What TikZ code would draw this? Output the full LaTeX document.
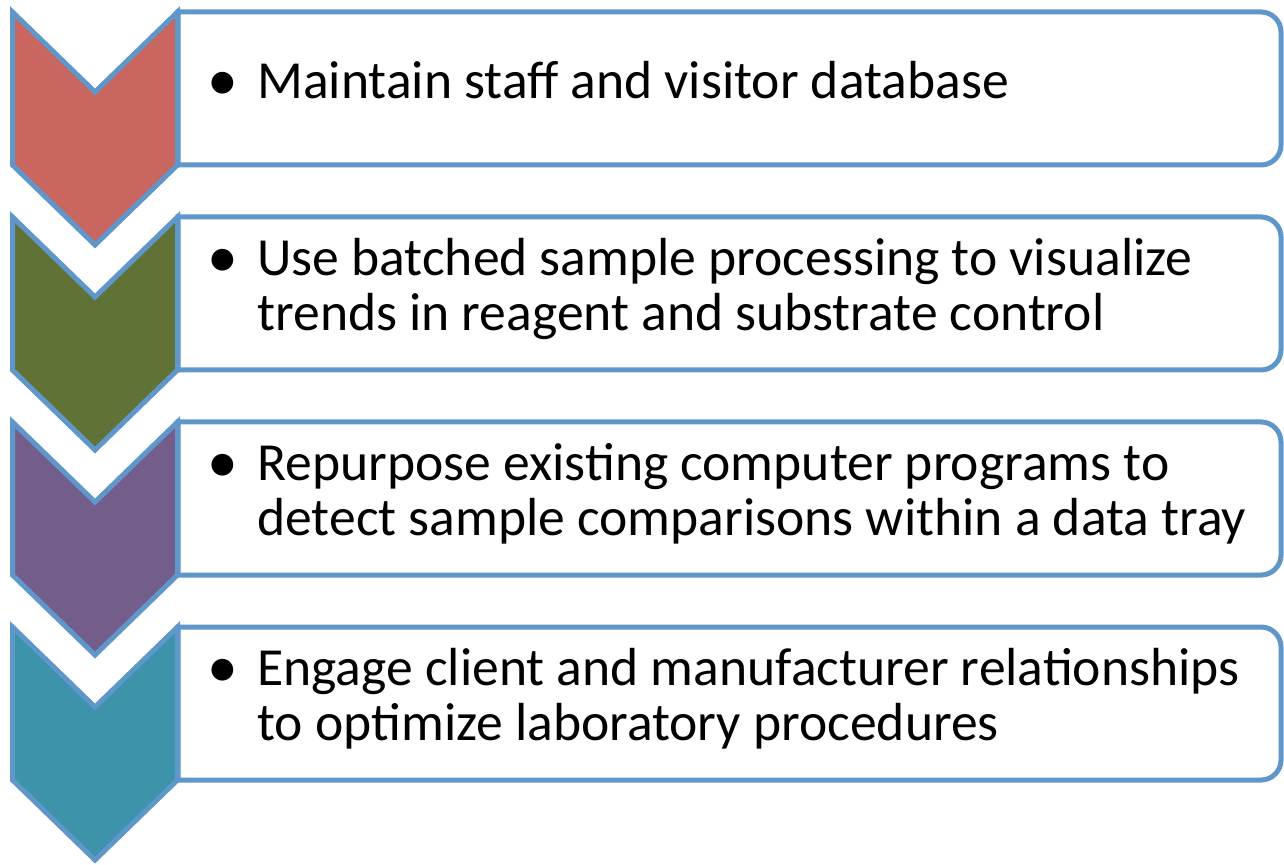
\documentclass[tikz,border=0pt]{standalone}
\usepackage{fontspec}
\setmainfont{Carlito}
\usepackage{tikz}
\usetikzlibrary{positioning}
\definecolor{c_line}{RGB}{96, 151, 203}
\definecolor{c_red}{RGB}{200, 102, 95}
\definecolor{c_green}{RGB}{97, 114, 54}
\definecolor{c_purple}{RGB}{115, 94, 139}
\definecolor{c_teal}{RGB}{60, 147, 170}
\tikzset{stage-box/.style={draw=c_line, line width=2.5pt, fill=white},
stage-arrow/.style={draw=c_line, line width=2.5pt},
stage-text/.style={anchor=west, inner sep=0pt, font=\fontsize{26.8}{27.5}\selectfont}}
\newcommand{\itemlines}[1]{\begin{tabular}{@{}p{22pt}@{}l@{}}\hspace*{-3pt}\raisebox{-1pt}{\scalebox{1.15}{\textbullet}} & #1\end{tabular}}

\begin{document}
\begin{tikzpicture}[x=0.5pt, y=-0.5pt]
\useasboundingbox (0,0) rectangle (1284,865);
% boxes
\draw [stage-box] (178,12) -- (1262,12) [rounded corners=10pt] -- (1281,12) -- (1281,165) [sharp corners] -- (1262,165) -- (178,165) -- cycle;
\draw [stage-box] (178,217) -- (1262,217) [rounded corners=10pt] -- (1281,217) -- (1281,370) [sharp corners] -- (1262,370) -- (178,370) -- cycle;
\draw [stage-box] (178,422) -- (1262,422) [rounded corners=10pt] -- (1281,422) -- (1281,575) [sharp corners] -- (1262,575) -- (178,575) -- cycle;
\draw [stage-box] (178,627) -- (1262,627) [rounded corners=10pt] -- (1281,627) -- (1281,780) [sharp corners] -- (1262,780) -- (178,780) -- cycle;
% chevrons
\draw [stage-arrow, fill=c_red] (12.5,12) -- (95,92) -- (177.5,12) -- (177.5,165) -- (95,245) -- (12.5,165) -- cycle;
\draw [stage-arrow, fill=c_green] (12.5,217) -- (95,297) -- (177.5,217) -- (177.5,370) -- (95,450) -- (12.5,370) -- cycle;
\draw [stage-arrow, fill=c_purple] (12.5,422) -- (95,502) -- (177.5,422) -- (177.5,575) -- (95,655) -- (12.5,575) -- cycle;
\draw [stage-arrow, fill=c_teal] (12.5,627) -- (95,707) -- (177.5,627) -- (177.5,780) -- (95,860) -- (12.5,780) -- cycle;
% texts
\node (t1) [stage-text] at (213,88) {\itemlines{Maintain staff and visitor database}};
\node (t2) [stage-text] at (213,292) {\itemlines{Use batched sample processing to visualize\\ & trends in reagent and substrate control}};
\node (t3) [stage-text] at (213,497) {\itemlines{Repurpose existing computer programs to\\ & detect sample comparisons within a data tray}};
\node (t4) [stage-text] at (213,702) {\itemlines{Engage client and manufacturer relationships\\ & to optimize laboratory procedures}};
\end{tikzpicture}
\end{document}
